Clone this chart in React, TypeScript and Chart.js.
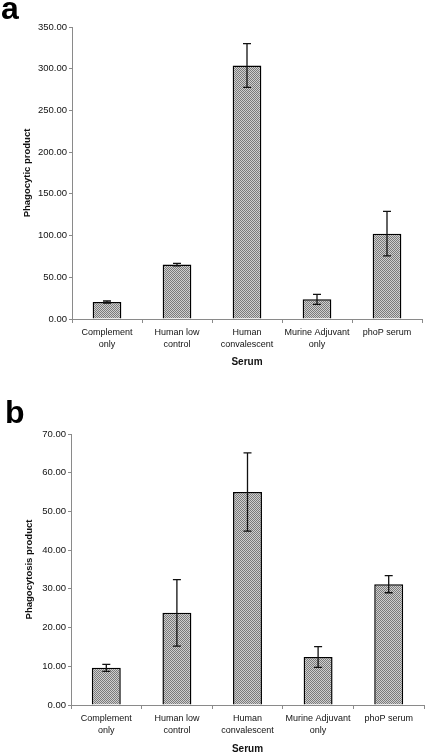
import React, { useEffect, useRef } from "react";
import { Chart, registerables } from "chart.js";

Chart.register(...registerables);

const categories: (string | string[])[] = [
  ["Complement", "only"],
  ["Human low", "control"],
  ["Human", "convalescent"],
  ["Murine Adjuvant", "only"],
  "phoP serum",
];

const valuesA = [20.4, 65.2, 303.8, 23.6, 102.3];
const errorsA = [1.2, 1.5, 26.2, 6.0, 26.7];
const titleA = "Phagocytic product";
const maxA = 350;
const stepA = 50;

const valuesB = [9.6, 23.8, 55.0, 12.4, 31.2];
const errorsB = [0.9, 8.6, 10.1, 2.7, 2.2];
const titleB = "Phagocytosis product";
const maxB = 70;
const stepB = 10;

const xTitle = "Serum";
const FONT = "'Liberation Sans', Arial, Helvetica, sans-serif";

function makePattern(): CanvasPattern | string {
  const c = document.createElement("canvas");
  c.width = 2;
  c.height = 2;
  const ctx = c.getContext("2d");
  if (!ctx) return "#a6a6a6";
  ctx.fillStyle = "#cfcfcf";
  ctx.fillRect(0, 0, 2, 2);
  ctx.fillStyle = "#7a7a7a";
  ctx.fillRect(0, 0, 1, 1);
  ctx.fillRect(1, 1, 1, 1);
  const p = ctx.createPattern(c, "repeat");
  return p || "#a6a6a6";
}

const errorBarPlugin = {
  id: "errorBars",
  afterDatasetsDraw(chart: any, _args: any, opts: any) {
    const errs: number[] = opts.errors || [];
    const meta = chart.getDatasetMeta(0);
    const ys = chart.scales.y;
    const ctx = chart.ctx;
    const vals = chart.data.datasets[0].data as number[];
    ctx.save();
    ctx.strokeStyle = "#111";
    ctx.lineWidth = 1.3;
    meta.data.forEach((bar: any, i: number) => {
      const v = vals[i];
      const e = errs[i];
      const x = bar.x;
      const yTop = ys.getPixelForValue(v + e);
      const yBot = ys.getPixelForValue(v - e);
      ctx.beginPath();
      ctx.moveTo(x, yTop);
      ctx.lineTo(x, yBot);
      ctx.moveTo(x - 4, yTop);
      ctx.lineTo(x + 4, yTop);
      ctx.moveTo(x - 4, yBot);
      ctx.lineTo(x + 4, yBot);
      ctx.stroke();
    });
    ctx.restore();
  },
};

type PanelProps = {
  values: number[];
  errors: number[];
  yTitle: string;
  max: number;
  step: number;
  padTop: number;
  padRight: number;
  yWidth: number;
  xHeight: number;
  yTitlePad: number;
  xTitlePadBottom: number;
};

function Panel(props: PanelProps) {
  const ref = useRef<HTMLCanvasElement | null>(null);
  useEffect(() => {
    if (!ref.current) return;
    const pattern = makePattern();
    const chart = new Chart(ref.current, {
      type: "bar",
      data: {
        labels: categories,
        datasets: [
          {
            data: props.values,
            backgroundColor: pattern as any,
            borderColor: "#000",
            borderWidth: 1.5,
            barPercentage: 0.41,
            categoryPercentage: 1,
          },
        ],
      },
      options: {
        responsive: false,
        animation: false,
        layout: {
          padding: { top: props.padTop, right: props.padRight, left: 0, bottom: 0 },
        },
        plugins: {
          legend: { display: false },
          tooltip: { enabled: false },
          errorBars: { errors: props.errors },
        } as any,
        scales: {
          x: {
            grid: {
              display: true,
              drawOnChartArea: false,
              drawTicks: true,
              tickLength: 4,
              color: "#8a8a8a",
              offset: true,
            },
            border: { color: "#8a8a8a", width: 1 },
            ticks: {
              color: "#111",
              font: { family: FONT, size: 9, lineHeight: 1.4 },
              padding: 3,
              maxRotation: 0,
              autoSkip: false,
            },
            title: {
              display: true,
              text: xTitle,
              color: "#111",
              font: { family: FONT, size: 10, weight: "bold" },
              padding: { top: 0, bottom: props.xTitlePadBottom },
            },
            afterFit(scale: any) {
              scale.height = props.xHeight;
            },
          },
          y: {
            min: 0,
            max: props.max,
            grid: {
              display: true,
              drawOnChartArea: false,
              drawTicks: true,
              tickLength: 3,
              color: "#8a8a8a",
            },
            border: { color: "#8a8a8a", width: 1 },
            ticks: {
              stepSize: props.step,
              color: "#111",
              font: { family: FONT, size: 9.5 },
              padding: 2,
              callback: (v: any) => Number(v).toFixed(2),
            },
            title: {
              display: true,
              text: props.yTitle,
              color: "#111",
              font: { family: FONT, size: 9.5, weight: "bold" },
              padding: { top: props.yTitlePad, bottom: 0 },
            },
            afterFit(scale: any) {
              scale.width = props.yWidth;
            },
          },
        },
      },
      plugins: [errorBarPlugin],
    });
    return () => chart.destroy();
  }, []);
  return <canvas ref={ref} width={425} height={375} style={{ display: "block", width: 425, height: 375 }} />;
}

export default function App() {
  const letter: React.CSSProperties = {
    position: "absolute",
    fontFamily: FONT,
    fontWeight: "bold",
    fontSize: 32,
    lineHeight: "32px",
    color: "#000",
  };
  return (
    <div style={{ position: "absolute", left: 0, top: 0, width: 425, height: 755, background: "#fff", overflow: "hidden" }}>
      <div style={{ position: "absolute", left: 0, top: 0 }}>
        <Panel
          values={valuesA}
          errors={errorsA}
          yTitle={titleA}
          max={maxA}
          step={stepA}
          padTop={27}
          padRight={3}
          yWidth={72}
          xHeight={56}
          yTitlePad={22}
          xTitlePadBottom={7}
        />
      </div>
      <div style={{ position: "absolute", left: 0, top: 380 }}>
        <Panel
          values={valuesB}
          errors={errorsB}
          yTitle={titleB}
          max={maxB}
          step={stepB}
          padTop={54}
          padRight={1}
          yWidth={71}
          xHeight={50}
          yTitlePad={24}
          xTitlePadBottom={0}
        />
      </div>
      <div style={{ ...letter, left: 1, top: -8 }}>a</div>
      <div style={{ ...letter, left: 5, top: 396 }}>b</div>
    </div>
  );
}
